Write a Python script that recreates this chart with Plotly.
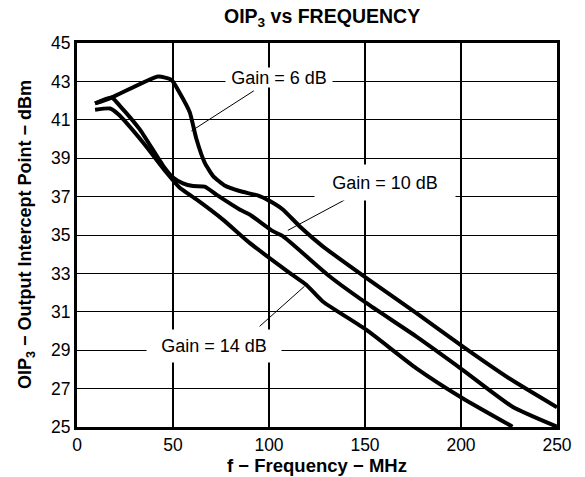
import plotly.graph_objects as go

# Data
f_6 = [9.4, 18, 42.3, 49.2, 53.5, 58.7, 62.2, 66.5, 70.9, 76.9, 84.7, 95.1, 102, 107.2, 115.9, 128, 150.6, 176.6, 200.8, 225, 250]
oip_6 = [41.85, 42.16, 43.26, 43.08, 42.4, 41.4, 40.0, 38.77, 38.07, 37.58, 37.29, 37.03, 36.68, 36.33, 35.46, 34.41, 32.77, 30.94, 29.2, 27.54, 26.03]

f_10 = [9.4, 18, 22.3, 32.7, 44.9, 50, 55.2, 60.4, 66.5, 72.6, 84.7, 89.9, 102, 107.2, 131.5, 150.6, 176.6, 200.8, 226.8, 250]
oip_10 = [41.85, 42.16, 41.73, 40.5, 38.6, 37.99, 37.69, 37.55, 37.52, 37.1, 36.33, 36.07, 35.2, 34.94, 32.85, 31.46, 29.72, 27.98, 26.06, 25.02]

f_14 = [9.4, 17.2, 21.5, 34.5, 46.6, 53.5, 62.2, 76, 89.9, 110.7, 119.4, 128, 150.6, 176.6, 200.8, 226.8]
oip_14 = [41.52, 41.59, 41.29, 39.81, 38.25, 37.46, 36.85, 35.8, 34.59, 33.03, 32.41, 31.54, 30.07, 28.07, 26.5, 25.02]

x_ticks = [0, 50, 100, 150, 200, 250]
y_ticks = [25, 27, 29, 31, 33, 35, 37, 39, 41, 43, 45]

labels = ["Gain = 6 dB", "Gain = 10 dB", "Gain = 14 dB"]
label_pos = [(105.2, 43.22), (160.4, 37.74), (71.35, 29.21)]
label_box = [(106, 19), (140, 35), (134, 32)]
leaders = [((92.1, 42.51), (59.6, 40.42)),
           ((139.3, 36.82), (109.8, 35.24)),
           ((95.1, 30.24), (118.5, 32.33))]

title_text = "<b>OIP<sub>3</sub> vs FREQUENCY</b>"
x_title = "<b>f − Frequency − MHz</b>"
y_title = "<b>OIP<sub>3</sub> − Output Intercept Point − dBm</b>"

FONT = "Liberation Sans, Arial, sans-serif"
W, H = 585, 477
# target plot area in page pixels: x 77..557, y 43..427
L, T = 77, 43
R = W - 557
B = H - 427
PH = H - T - B
PW = W - L - R


def px_to_paper_x(px):
    return (px - L) / PW


def py_to_paper_y(py):
    return (H - B - py) / PH


fig = go.Figure()
for fx, fy in [(f_6, oip_6), (f_10, oip_10), (f_14, oip_14)]:
    fig.add_trace(go.Scatter(x=fx, y=fy, mode="lines",
                             line=dict(color="black", width=4, shape="spline", smoothing=0.5),
                             showlegend=False, hoverinfo="skip"))

for (a, b) in leaders:
    fig.add_shape(type="line", x0=a[0], y0=a[1], x1=b[0], y1=b[1],
                  line=dict(color="black", width=1), layer="above")

for txt, (lx, ly), (bw, bh) in zip(labels, label_pos, label_box):
    fig.add_annotation(x=lx, y=ly, text=txt, showarrow=False,
                       font=dict(family=FONT, size=18, color="black"),
                       bgcolor="white", borderpad=0, width=bw, height=bh,
                       align="center", valign="middle")

# titles placed in paper coordinates
fig.add_annotation(xref="paper", yref="paper", x=px_to_paper_x(321.5), y=py_to_paper_y(18),
                   text=title_text, showarrow=False, xanchor="center", yanchor="middle",
                   font=dict(family=FONT, size=19.5, color="black"))
fig.add_annotation(xref="paper", yref="paper", x=px_to_paper_x(317), y=py_to_paper_y(465),
                   text=x_title, showarrow=False, xanchor="center", yanchor="middle",
                   font=dict(family=FONT, size=18.5, color="black"))
fig.add_annotation(xref="paper", yref="paper", x=px_to_paper_x(26), y=0.5,
                   text=y_title, showarrow=False, xanchor="center", yanchor="middle",
                   textangle=-90, font=dict(family=FONT, size=18, color="black"))

fig.update_layout(
    width=W, height=H,
    margin=dict(l=L, r=R, t=T, b=B),
    paper_bgcolor="white", plot_bgcolor="white",
    font=dict(family=FONT, color="black"),
    hovermode=False,
    xaxis=dict(range=[0, 250], tickvals=x_ticks, showgrid=True, gridcolor="black", gridwidth=1.6,
               showline=True, linecolor="black", linewidth=3, mirror=True, zeroline=False,
               ticks="", tickfont=dict(family=FONT, size=17.5, color="black")),
    yaxis=dict(range=[25, 45], tickvals=y_ticks, showgrid=True, gridcolor="black", gridwidth=1.4,
               showline=True, linecolor="black", linewidth=3, mirror=True, zeroline=False,
               ticks="", tickfont=dict(family=FONT, size=17.5, color="black")),
)

fig.write_html("out.html", config={"displayModeBar": False},
               post_script="document.body.style.margin='0';")
